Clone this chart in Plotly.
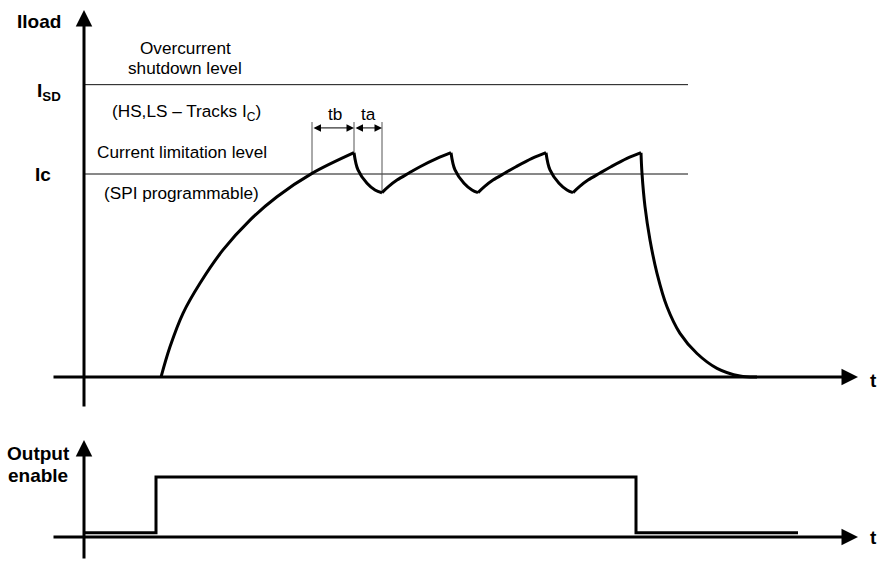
import plotly.graph_objects as go

# ---------------- data (time in arbitrary units, current normalised to Ic) ----------------
IC_LEVEL = 1.0
ISD_LEVEL = 1.44
LEVEL_END = 60.4

t_rise0 = [7.7, 8.6, 9.9, 11.6, 13.9, 16.6, 19.3, 22.8, 27.0]
i_rise0 = [0.0, 0.149, 0.314, 0.462, 0.626, 0.773, 0.888, 1.003, 1.105]

i_fall = [1.105, 1.02, 0.954, 0.921, 0.908]
i_rise = [0.908, 0.94, 0.970, 1.005, 1.036, 1.077, 1.105]

t_fall1 = [27.0, 27.4, 28.3, 29.1, 29.8]
t_rise1 = [29.8, 30.5, 31.3, 32.5, 33.6, 35.3, 36.7]
t_fall2 = [36.7, 37.1, 38.0, 38.8, 39.4]
t_rise2 = [39.4, 40.1, 40.9, 42.1, 43.2, 44.8, 46.2]
t_fall3 = [46.2, 46.6, 47.5, 48.3, 48.9]
t_rise3 = [48.9, 49.6, 50.4, 51.6, 52.7, 54.3, 55.7]

t_decay = [55.7, 55.8, 56.1, 56.6, 57.3, 58.3, 59.6, 61.3, 63.3, 65.6, 67.3]
i_decay = [1.105, 1.003, 0.839, 0.675, 0.511, 0.346, 0.215, 0.116, 0.043, 0.005, 0.0]

# tb / ta markers
t_tb_start, t_peak1, t_trough1 = 22.8, 27.0, 29.8
i_tb_start, i_peak1, i_trough1 = 1.0, 1.105, 0.908
I_MARK_TOP = 1.256
I_MARK_ARROW = 1.227

# output enable signal
t_en = [0, 7.2, 7.2, 55.2, 55.2, 71.4]
v_en = [0.07, 0.07, 1.0, 1.0, 0.07, 0.07]

# axes extents
T_AXIS = [-3.2, 77.4]
I_AXIS = [-0.153, 1.808]
EN_AXIS = [-0.383, 1.617]

FONT = "Liberation Sans, Arial, sans-serif"
fig = go.Figure()

def line(x, y, w=3, color="black", yaxis="y", shape="linear"):
    fig.add_trace(go.Scatter(x=x, y=y, mode="lines", yaxis=yaxis,
                             line=dict(color=color, width=w, shape=shape),
                             hoverinfo="skip", showlegend=False))

# level lines
line([0, LEVEL_END], [ISD_LEVEL, ISD_LEVEL], w=1, color="#111")
line([0, LEVEL_END], [IC_LEVEL, IC_LEVEL], w=1, color="#111")

# tb / ta vertical guides
line([t_tb_start, t_tb_start], [i_tb_start, I_MARK_TOP], w=1, color="#555")
line([t_peak1, t_peak1], [i_peak1, I_MARK_TOP], w=1, color="#555")
line([t_trough1, t_trough1], [i_trough1, I_MARK_TOP], w=1, color="#555")

# load current curve
segments = [(t_rise0, i_rise0), (t_fall1, i_fall), (t_rise1, i_rise),
            (t_fall2, i_fall), (t_rise2, i_rise), (t_fall3, i_fall),
            (t_rise3, i_rise), (t_decay, i_decay)]
for tx, iy in segments:
    line(tx, iy, w=3, shape="spline")

# output enable
line(t_en, v_en, w=3, yaxis="y2")

annotations = []

def axis_arrow(x0, y0, x1, y1, yref="y"):
    annotations.append(dict(x=x1, y=y1, ax=x0, ay=y0, xref="x", yref=yref,
                            axref="x", ayref=yref, text="", showarrow=True,
                            arrowhead=2, arrowsize=1.1, arrowwidth=3,
                            arrowcolor="black"))

axis_arrow(0, I_AXIS[0], 0, I_AXIS[1])
axis_arrow(T_AXIS[0], 0, T_AXIS[1], 0)
axis_arrow(0, EN_AXIS[0], 0, EN_AXIS[1], yref="y2")
axis_arrow(T_AXIS[0], 0, T_AXIS[1], 0, yref="y2")

def dbl_arrow(x0, x1, y):
    annotations.append(dict(x=x1, y=y, ax=x0, ay=y, xref="x", yref="y",
                            axref="x", ayref="y", text="", showarrow=True,
                            arrowhead=2, arrowsize=1.5, arrowwidth=1,
                            startarrowhead=2, startarrowsize=1.5,
                            arrowside="end+start", arrowcolor="black"))

dbl_arrow(t_tb_start, t_peak1, I_MARK_ARROW)
dbl_arrow(t_peak1, t_trough1, I_MARK_ARROW)

def label(text, x, y, size=17.2, xanchor="center", yref="y", bold=False):
    if bold:
        text = "<b>" + text + "</b>"
    annotations.append(dict(x=x, y=y, xref="x", yref=yref, text=text,
                            showarrow=False, xanchor=xanchor, yanchor="middle",
                            font=dict(family=FONT, size=size, color="black")))

label("Overcurrent", 10.1, 1.622)
label("shutdown level", 10.1, 1.522)
label("(HS,LS \u2013 Tracks I<sub>C</sub>)", 10.2, 1.305)
label("Current limitation level", 9.8, 1.110)
label("(SPI programmable)", 9.7, 0.908)
label("tb", 25.1, 1.296)
label("ta", 28.4, 1.296)

label("Iload", -2.1, 1.750, size=19, xanchor="right", bold=True)
label("I<sub>SD</sub>", -2.1, 1.405, size=19, xanchor="right", bold=True)
label("Ic", -3.1, 1.0, size=19, xanchor="right", bold=True)
label("t", 78.9, -0.015, size=19, xanchor="center", bold=True)

label("Output", -4.6, 1.40, size=19, yref="y2", bold=True)
label("enable", -4.6, 1.017, size=19, yref="y2", bold=True)
label("t", 78.9, 0.0, size=19, yref="y2", bold=True)

fig.update_layout(
    width=878, height=561, autosize=False,
    margin=dict(l=0, r=0, t=0, b=0),
    paper_bgcolor="white", plot_bgcolor="white",
    xaxis=dict(range=[-8.4, 79.4], visible=False, fixedrange=True),
    yaxis=dict(range=[-0.906, 1.857], visible=False, fixedrange=True),
    yaxis2=dict(range=[-0.4, 8.95], visible=False, fixedrange=True,
                overlaying="y"),
    annotations=annotations,
    showlegend=False,
)

fig.write_html("out.html", config={"displayModeBar": False},
               post_script="document.body.style.margin='0';document.body.style.overflow='hidden';")
